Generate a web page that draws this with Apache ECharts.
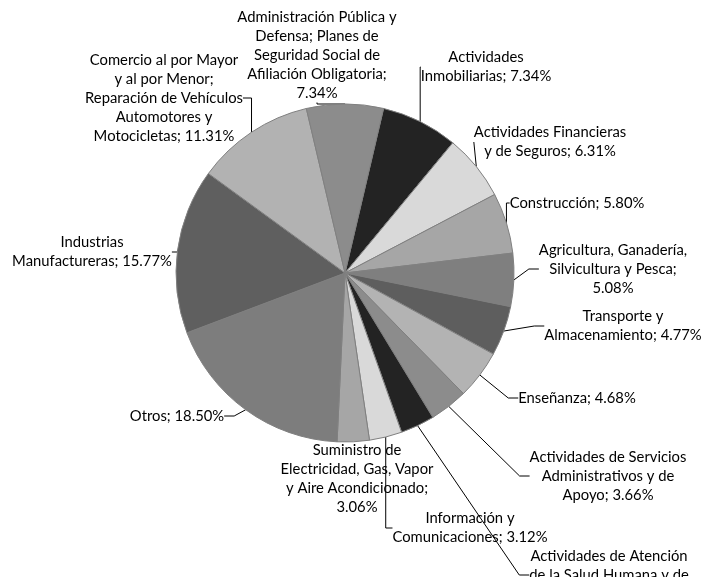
<!DOCTYPE html>
<html>
<head>
<meta charset="utf-8">
<script src="https://cdn.jsdelivr.net/npm/echarts@6/dist/echarts.min.js"></script>
<style>
  html, body { margin: 0; padding: 0; background: #fff; }
  #main { width: 719px; height: 577px; }
</style>
</head>
<body>
<div id="main"></div>
<script>
// sectores, en el orden del gráfico (horario desde arriba)
var sectores = [
  'Actividades Inmobiliarias',
  'Actividades Financieras y de Seguros',
  'Construcción',
  'Agricultura, Ganadería, Silvicultura y Pesca',
  'Transporte y Almacenamiento',
  'Enseñanza',
  'Actividades de Servicios Administrativos y de Apoyo',
  'Actividades de Atención de la Salud Humana y de Asistencia Social',
  'Información y Comunicaciones',
  'Suministro de Electricidad, Gas, Vapor y Aire Acondicionado',
  'Otros',
  'Industrias Manufactureras',
  'Comercio al por Mayor y al por Menor; Reparación de Vehículos Automotores y Motocicletas',
  'Administración Pública y Defensa; Planes de Seguridad Social de Afiliación Obligatoria'
];
var porcentajes = [7.34, 6.31, 5.80, 5.08, 4.77, 4.68, 3.66, 3.26, 3.12, 3.06, 18.50, 15.77, 11.31, 7.34];

// texto de cada etiqueta, con los saltos de línea del original ({v} = valor)
var etiquetas = [
  'Actividades\nInmobiliarias; {v}%',
  'Actividades Financieras\ny de Seguros; {v}%',
  'Construcción; {v}%',
  'Agricultura, Ganadería,\nSilvicultura y Pesca;\n{v}%',
  'Transporte y\nAlmacenamiento; {v}%',
  'Enseñanza; {v}%',
  'Actividades de Servicios\nAdministrativos y de\nApoyo; {v}%',
  'Actividades de Atención\nde la Salud Humana y de\nAsistencia Social; {v}%',
  'Información y\nComunicaciones; {v}%',
  'Suministro de\nElectricidad, Gas, Vapor\ny Aire Acondicionado;\n{v}%',
  'Otros; {v}%',
  'Industrias\nManufactureras; {v}%',
  'Comercio al por Mayor\ny al por Menor;\nReparación de Vehículos\nAutomotores y\nMotocicletas; {v}%',
  'Administración Pública y\nDefensa; Planes de\nSeguridad Social de\nAfiliación Obligatoria;\n{v}%'
];

var grises = ['#232323', '#d9d9d9', '#a6a6a6', '#7f7f7f', '#5e5e5e', '#b3b3b3', '#8c8c8c',
              '#232323', '#d9d9d9', '#a6a6a6', '#7d7d7d', '#5f5f5f', '#b2b2b2', '#8c8c8c'];

// posición (centro) de cada bloque de texto
var posEtiqueta = [
  [486, 67], [550, 142], [577, 203], [613, 269], [623, 326], [577, 398], [608, 476],
  [609, 575], [470, 528], [357, 479], [177, 416], [92, 252], [164, 98], [317, 55]
];

var datos = sectores.map(function (n, i) {
  var item = { name: n, value: porcentajes[i], itemStyle: { color: grises[i] } };
  if (i === 9) item.labelLine = { show: false };
  return item;
});

var chart = echarts.init(document.getElementById('main'), null, { renderer: 'canvas' });

chart.setOption({
  animation: false,
  backgroundColor: '#ffffff',
  series: [{
    type: 'pie',
    center: [345, 273],
    radius: 169,
    startAngle: 76.8,
    clockwise: true,
    avoidLabelOverlap: false,
    silent: true,
    data: datos,
    itemStyle: { borderColor: '#808080', borderWidth: 1 },
    label: {
      show: true,
      position: 'outside',
      color: '#000',
      fontFamily: 'Lato',
      fontSize: 14.8,
      lineHeight: 19,
      align: 'center',
      formatter: function (p) {
        return etiquetas[p.dataIndex].replace('{v}', p.value.toFixed(2));
      }
    },
    labelLine: {
      show: true,
      length: 10,
      length2: 10,
      lineStyle: { color: '#000', width: 1 }
    },
    labelLayout: function (p) {
      var q = posEtiqueta[p.dataIndex];
      return { x: q[0], y: q[1], align: 'center', verticalAlign: 'middle' };
    }
  }]
});
</script>
</body>
</html>
